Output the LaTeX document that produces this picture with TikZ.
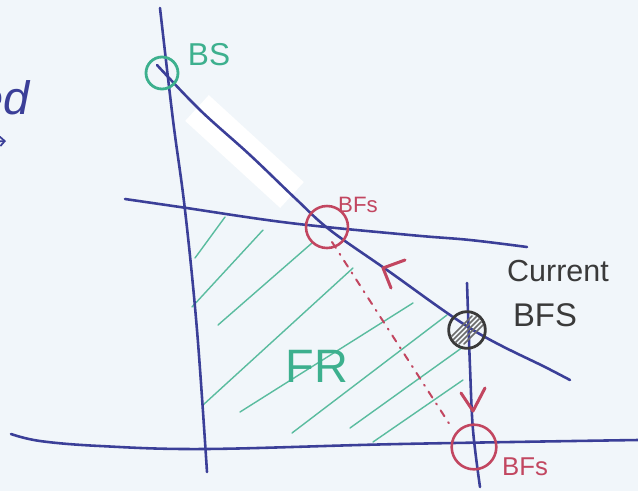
\documentclass[tikz,border=0pt]{standalone}
\usepackage{fontspec}
\setmainfont{Liberation Sans}
\usetikzlibrary{arrows.meta}
\definecolor{pen}{HTML}{3B3F98}
\definecolor{grn}{HTML}{3DB08E}
\definecolor{rd}{HTML}{C24660}
\definecolor{blk}{HTML}{3A3A3A}
\definecolor{paper}{HTML}{F1F6FA}
\begin{document}
\begin{tikzpicture}[x=0.03cm,y=-0.03cm,line cap=round,line join=round,
  penline/.style={pen,line width=2.2pt},
  hatchline/.style={grn!85,line width=1.2pt},
  redmark/.style={rd,line width=2.6pt},
  label/.style={inner sep=0pt,anchor=center}]
\fill[paper] (0,0) rectangle (638,491);
\useasboundingbox (0,0) rectangle (638,491);
\clip (0,0) rectangle (638,491);
% erased band
\coordinate (eA) at (197,108);
\coordinate (eB) at (292,195);
\draw[white,line width=1.05cm,line cap=butt] (eA) -- (eB);
% green hatching of the feasible region
\foreach \a/\b/\c/\d in {195/258/225/217,192/307/263/230,218/325/312/243,203/405/353/268,240/412/413/303,292/433/447/315,350/428/463/347,373/442/463/380}
  \draw[hatchline] (\a,\b) -- (\c,\d);
% constraint lines
\draw[penline] plot[smooth,tension=0.6] coordinates {(160,8) (173,120) (185,210) (197,330) (207,472)};
\draw[penline] plot[smooth,tension=0.6] coordinates {(157,65) (200,110) (250,155) (297,200) (330,230) (387,270) (473,330) (547,368) (570,380)};
\draw[penline] plot[smooth,tension=0.6] coordinates {(125,199) (180,207) (290,223) (410,235) (470,240) (527,247)};
\draw[penline] plot[smooth,tension=0.6] coordinates {(11,434) (40,441) (100,446) (205,449) (400,444) (638,440)};
\draw[penline] plot[smooth,tension=0.6] coordinates {(467,283) (470,367) (473,430) (480,487)};
% left-edge marks
\node[label,pen,font=\fontsize{40}{40}\selectfont\itshape,anchor=east] (ed) at (30,98) {ed};
\coordinate (arS) at (-10,142);
\coordinate (arE) at (6,141);
\draw[pen,line width=1.5pt,-{Straight Barb[length=4pt]}] (arS) -- (arE);
% circles
\node[circle,draw=grn,line width=2.4pt,minimum size=0.96cm,inner sep=0pt] (bs) at (162,73) {};
\node[circle,draw=rd,line width=2.2pt,minimum size=1.26cm,inner sep=0pt] (bfsA) at (327,227) {};
\node[circle,draw=rd,line width=2.2pt,minimum size=1.34cm,inner sep=0pt] (bfsB) at (474,447) {};
\node[circle,draw=blk,line width=2.4pt,minimum size=1.1cm,inner sep=0pt] (cur) at (467,330) {};
\begin{scope}
  \clip (cur.center) circle[radius=17];
  \begin{scope}[shift={(cur.center)}]
    \foreach \o in {-9,-4,1,6,11}
      \draw[blk!75,line width=1.3pt] (\o-14,14) -- (\o+14,-14);
  \end{scope}
\end{scope}
% red path between basic feasible solutions
\coordinate (dA) at (332,242);
\coordinate (dB) at (452,428);
\draw[rd,line width=1.7pt,dash pattern=on 6pt off 6pt on 1pt off 6pt] (dA) -- (dB);
\coordinate (m1a) at (405,260);
\coordinate (m1v) at (383,268);
\coordinate (m1b) at (391,288);
\draw[redmark] (m1a) -- (m1v) -- (m1b);
\coordinate (m2a) at (461,393);
\coordinate (m2v) at (473,411);
\coordinate (m2b) at (485,388);
\draw[redmark] (m2a) -- (m2v) -- (m2b);
% labels
\node[label,grn,font=\fontsize{27}{27}\selectfont] (tBS) at (209,55) {BS};
\node[label,rd,font=\fontsize{19}{19}\selectfont] (tA) at (358,205) {BFs};
\node[label,rd,font=\fontsize{22}{22}\selectfont] (tB) at (525,467) {BFs};
\node[label,blk,font=\fontsize{26}{26}\selectfont] (tCur) at (558,271) {Current};
\node[label,blk,font=\fontsize{28}{28}\selectfont] (tBFS) at (545,315) {BFS};
\node[label,grn,font=\fontsize{40}{40}\selectfont] (tFR) at (317,366) {FR};
\end{tikzpicture}
\end{document}
